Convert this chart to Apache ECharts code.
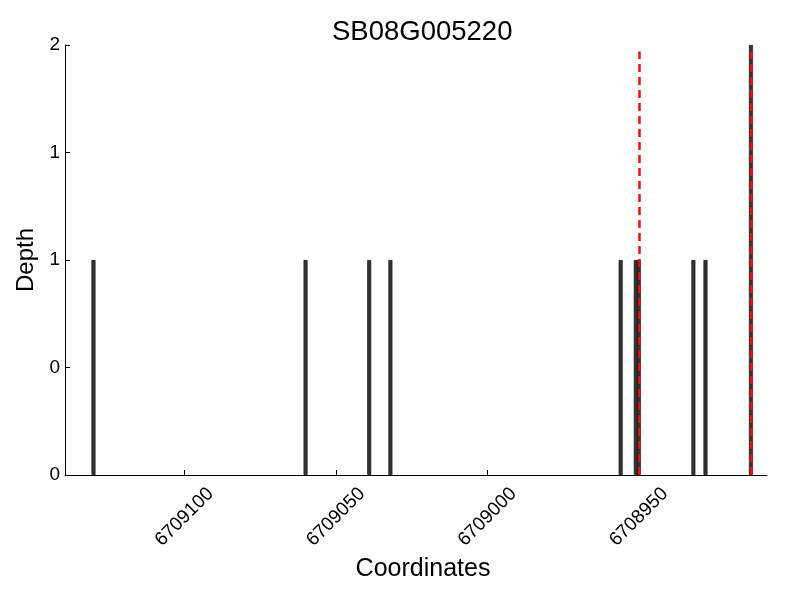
<!DOCTYPE html>
<html>
<head>
<meta charset="utf-8">
<script src="https://cdn.jsdelivr.net/npm/echarts@6/dist/echarts.min.js"></script>
<style>html,body{margin:0;padding:0;background:#fff}#c{width:800px;height:600px}</style>
</head>
<body>
<div id="c"></div>
<script>
const title = 'SB08G005220';
const positions = [6709130, 6709060, 6709039, 6709032, 6708956, 6708951, 6708950, 6708932, 6708928, 6708913];
const depths = [1, 1, 1, 1, 1, 1, 1, 1, 1, 2];
const markers = [6708950, 6708913];
const xTicks = [6708950, 6709000, 6709050, 6709100];
const yTicks = [0, 0.5, 1, 1.5, 2];

const font = 'Liberation Sans, Arial, sans-serif';
const chart = echarts.init(document.getElementById('c'));
chart.setOption({
  animation: false,
  backgroundColor: '#fff',
  title: {text: title, left: 327, top: 13,
    textStyle: {fontFamily: font, fontSize: 27.5, fontWeight: 'normal', color: '#000'}},
  grid: {left: 65, right: 33, top: 45, bottom: 125, outerBoundsMode: 'none'},
  xAxis: {
    type: 'value', inverse: true, min: 6708907.7, max: 6709139.4,
    name: 'Coordinates', nameLocation: 'middle', nameGap: 80,
    nameTextStyle: {fontFamily: font, fontSize: 25, color: '#000', padding: [0, 0, 0, 14]},
    axisLine: {lineStyle: {color: '#000', width: 1}},
    axisTick: {inside: true, length: 5, customValues: xTicks, lineStyle: {color: '#000'}},
    axisLabel: {customValues: xTicks, rotate: 45, align: 'center', verticalAlign: 'middle',
      fontFamily: font, fontSize: 19, color: '#000', margin: 42,
      formatter: v => String(v)},
    splitLine: {show: false}
  },
  yAxis: {
    type: 'value', min: 0, max: 2,
    name: 'Depth', nameLocation: 'middle', nameGap: 27,
    nameTextStyle: {fontFamily: font, fontSize: 24, color: '#000'},
    axisLine: {show: true, lineStyle: {color: '#000', width: 1}},
    axisTick: {show: true, inside: true, length: 5, customValues: yTicks, lineStyle: {color: '#000'}},
    axisLabel: {customValues: yTicks, fontFamily: font, fontSize: 19, color: '#000', margin: 5,
      formatter: v => String(Math.floor(v))},
    splitLine: {show: false}
  },
  series: [{
    type: 'bar',
    barWidth: 4,
    data: positions.map((p, i) => [p, depths[i]]),
    itemStyle: {color: '#333', borderColor: '#111', borderWidth: 0.6},
    markLine: {
      silent: true, symbol: 'none', label: {show: false},
      lineStyle: {color: '#ee1111', type: [8, 5], width: 2.5},
      data: markers.map(m => [{coord: [m, 0]}, {coord: [m, 1.97]}])
    }
  }]
});
</script>
</body>
</html>
